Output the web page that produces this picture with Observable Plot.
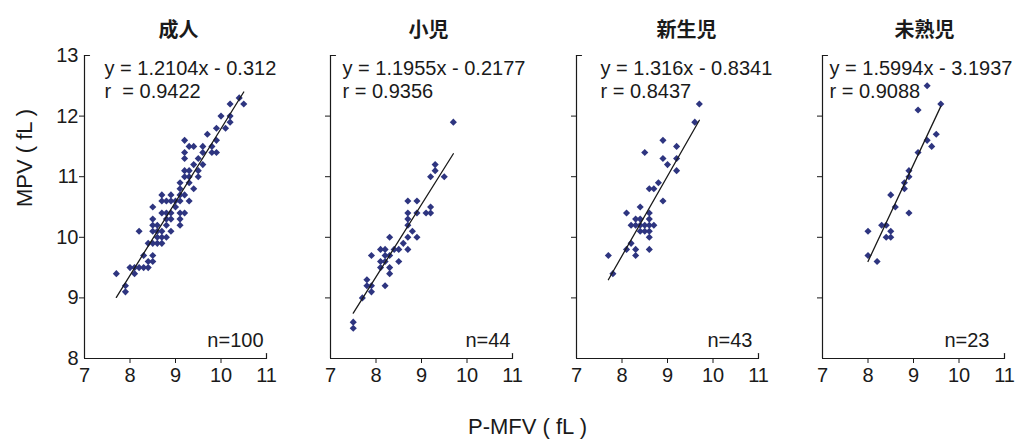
<!DOCTYPE html>
<html>
<head>
<meta charset="utf-8">
<script src="https://cdn.jsdelivr.net/npm/d3@7"></script>
<script src="https://cdn.jsdelivr.net/npm/@observablehq/plot@0.6"></script>
<style>
  html, body { margin: 0; padding: 0; background: #fff; }
</style>
</head>
<body>
<div id="chart"></div>
<script>
// ---- data ----
const groups = ["成人", "小児", "新生児", "未熟児"];

const adultX = [7.7, 7.9, 7.9, 8.0, 8.1, 8.1, 8.2, 8.2, 8.3, 8.3, 8.4, 8.4, 8.4, 8.5, 8.5, 8.5, 8.5, 8.5, 8.5, 8.5,
  8.6, 8.6, 8.6, 8.6, 8.7, 8.7, 8.7, 8.7, 8.7, 8.7, 8.8, 8.8, 8.8, 8.8, 8.8, 8.9, 8.9, 8.9, 8.9, 8.9,
  9.0, 9.0, 9.1, 9.1, 9.1, 9.1, 9.1, 9.1, 9.1, 9.2, 9.2, 9.2, 9.2, 9.2, 9.2, 9.2, 9.3, 9.3, 9.3, 9.3,
  9.3, 9.4, 9.4, 9.4, 9.5, 9.5, 9.5, 9.6, 9.6, 9.6, 9.7, 9.8, 9.8, 9.9, 9.9, 9.9, 10.0, 10.1, 10.2, 10.2,
  10.2, 10.4, 10.5];
const adultY = [9.4, 9.2, 9.1, 9.5, 9.4, 9.5, 10.1, 9.5, 9.7, 9.5, 9.5, 9.6, 9.9, 9.6, 9.7, 9.9, 10.1, 10.2, 10.3, 10.5,
  10.1, 10.0, 9.9, 10.2, 10.1, 10.0, 9.9, 10.4, 10.6, 10.7, 10.0, 10.2, 10.3, 10.4, 10.6, 10.3, 10.4, 10.6, 10.7, 10.1,
  10.5, 10.6, 10.4, 10.3, 10.2, 10.7, 10.9, 10.8, 10.6, 10.4, 10.7, 11.0, 11.1, 11.3, 11.4, 11.6, 10.9, 11.1, 11.0, 11.5,
  10.6, 11.5, 11.2, 10.8, 11.1, 11.0, 11.3, 11.4, 11.5, 11.2, 11.7, 11.5, 11.4, 11.4, 11.6, 11.8, 12.0, 11.8, 11.9, 12.0,
  12.2, 12.3, 12.2];

const childX = [7.5, 7.5, 7.7, 7.8, 7.8, 7.9, 7.9, 7.9, 8.1, 8.1, 8.1, 8.2, 8.2, 8.2, 8.2, 8.3, 8.3, 8.3, 8.3, 8.4,
  8.5, 8.5, 8.6, 8.7, 8.7, 8.7, 8.7, 8.7, 8.7, 8.8, 8.9, 8.9, 8.9, 9.1, 9.2, 9.2, 9.2, 9.3, 9.3, 9.5, 9.7];
const childY = [8.6, 8.5, 9.0, 9.3, 9.2, 9.2, 9.1, 9.7, 9.8, 9.6, 9.5, 9.8, 9.7, 9.6, 9.2, 10.0, 9.7, 9.5, 9.4, 9.8,
  9.8, 9.6, 9.9, 9.8, 10.0, 10.2, 10.3, 10.4, 10.6, 10.1, 10.0, 10.4, 10.6, 10.4, 10.4, 10.5, 11.0, 11.1, 11.2, 11.0, 11.9];

const neonateX = [7.7, 7.8, 8.1, 8.1, 8.2, 8.2, 8.3, 8.3, 8.3, 8.3, 8.4, 8.4, 8.4, 8.4, 8.5, 8.5, 8.5, 8.6, 8.6, 8.6,
  8.6, 8.6, 8.6, 8.6, 8.7, 8.7, 8.8, 8.9, 8.9, 8.9, 9.0, 9.2, 9.2, 9.2, 9.6, 9.7];
const neonateY = [9.7, 9.4, 10.4, 9.8, 10.2, 9.9, 10.3, 10.2, 9.8, 9.7, 10.5, 10.2, 10.1, 10.3, 10.2, 10.1, 11.4, 10.4, 10.3, 10.2,
  10.1, 10.0, 9.8, 10.8, 10.2, 10.8, 10.9, 10.6, 11.3, 11.6, 11.2, 11.3, 11.1, 11.5, 11.9, 12.2];

const pretermX = [8.0, 8.0, 8.2, 8.3, 8.4, 8.4, 8.5, 8.5, 8.5, 8.6, 8.8, 8.8, 8.9, 8.9, 8.9, 9.1, 9.1, 9.3, 9.3, 9.4, 9.5, 9.6];
const pretermY = [10.1, 9.7, 9.6, 10.2, 10.2, 10.0, 10.0, 10.1, 10.7, 10.5, 10.8, 10.9, 10.4, 11.0, 11.1, 11.4, 12.1, 11.6, 12.5, 11.5, 11.7, 12.2];

const slopes = [1.2104, 1.1955, 1.316, 1.5994];
const intercepts = [-0.312, -0.2177, -0.8341, -3.1937];
const rLabels = ["r  = 0.9422", "r = 0.9356", "r = 0.8437", "r = 0.9088"];
const nLabels = ["n=100", "n=44", "n=43", "n=23"];
const xTicks = [7, 8, 9, 10, 11];
const yTicks = [8, 9, 10, 11, 12, 13];
const xTitle = "P-MFV ( fL )";
const yTitle = "MPV ( fL )";

// ---- build tables ----
const xs = [adultX, childX, neonateX, pretermX];
const ys = [adultY, childY, neonateY, pretermY];
const points = [];
groups.forEach((g, i) => xs[i].forEach((x, j) => points.push({group: g, x, y: ys[i][j]})));
const fits = groups.flatMap((g, i) =>
  d3.extent(xs[i]).map(x => ({group: g, x, y: slopes[i] * x + intercepts[i]})));
const eqTexts = groups.map((g, i) => ({
  group: g,
  text: `y = ${slopes[i]}x - ${Math.abs(intercepts[i])}\n${rLabels[i].replace(/  /g, "\u00a0 ")}`
}));

// ---- styling ----
const ink = "#1a1a1a";
const navy = "#2e3580";
const latin = "'Liberation Sans', Arial, Helvetica, sans-serif";
const cjk = "'Noto Sans CJK JP', 'Noto Sans CJK SC', sans-serif";
const eqDx = [20, 12, 24, 7];
const nDx = [-3, -2, -6, -15];
const titleDx = [3, 7, 19, 11];
const tickShape = {draw(ctx, l) { ctx.moveTo(0, 0); ctx.lineTo(0, -l); }};
const intFormat = d3.format("d");

const chart = Plot.plot({
  width: 1021,
  height: 445,
  marginTop: 55,
  marginBottom: 87,
  marginLeft: 83,
  marginRight: 16,
  style: {fontFamily: latin, fontSize: "20px", color: ink, background: "#fff", overflow: "visible"},
  fx: {domain: groups, paddingInner: 0.262, paddingOuter: 0, axis: null, label: null},
  x: {domain: [xTicks[0], xTicks[xTicks.length - 1]], axis: null, label: null},
  y: {domain: [yTicks[0], yTicks[yTicks.length - 1]], axis: null, label: null},
  marks: [
    // axis lines
    Plot.ruleX([xTicks[0]], {stroke: ink, strokeWidth: 1.2}),
    Plot.ruleY([yTicks[0]], {stroke: ink, strokeWidth: 1.2}),
    // outward ticks
    Plot.axisY(yTicks.slice(1, -1), {tickSize: 5, tickFormat: () => "", facetAnchor: null, stroke: ink, label: null}),
    Plot.axisX(xTicks.slice(1, -1), {tickSize: 5, tickFormat: () => "", stroke: ink, label: null}),
    // inward end ticks
    Plot.vector([yTicks[yTicks.length - 1]], {x: () => xTicks[0], y: d => d, length: 5, rotate: 90, anchor: "start", shape: tickShape, stroke: ink, strokeWidth: 1.2}),
    Plot.vector([xTicks[xTicks.length - 1]], {x: d => d, y: () => yTicks[0], length: 5, rotate: 0, anchor: "start", shape: tickShape, stroke: ink, strokeWidth: 1.2}),
    // tick labels
    Plot.axisY(yTicks, {tickSize: 0, tickPadding: 6, tickFormat: intFormat, fontSize: 20, fill: ink, label: null}),
    Plot.axisX(xTicks, {tickSize: 0, tickPadding: 9, tickFormat: intFormat, fontSize: 20, fill: ink, label: null}),
    // data
    Plot.dot(points, {fx: "group", x: "x", y: "y", symbol: "diamond2", r: 3.2, fill: navy, stroke: "none"}),
    Plot.line(fits, {fx: "group", x: "x", y: "y", z: "group", stroke: ink, strokeWidth: 1.3}),
    // annotations
    ...groups.map((g, i) => Plot.text([eqTexts[i]], {
      fx: "group", text: "text", frameAnchor: "top-left", textAnchor: "start", lineAnchor: "top",
      dx: eqDx[i], dy: 3, lineHeight: 1.15, fontSize: 20, fill: ink
    })),
    ...groups.map((g, i) => Plot.text([nLabels[i]], {
      fx: () => g, text: d => d, frameAnchor: "bottom-right", textAnchor: "end", lineAnchor: "bottom",
      dx: nDx[i], dy: -12, fontSize: 20, fill: ink
    })),
    // facet titles
    ...groups.map((g, i) => Plot.text([g], {
      fx: d => d, text: d => d, frameAnchor: "top", dy: -33, dx: titleDx[i],
      fontFamily: cjk, fontWeight: "bold", fontSize: 20, fill: ink
    })),
    // axis titles
    Plot.text([yTitle], {fx: () => groups[0], text: d => d, frameAnchor: "left", dx: -60, rotate: -90, fontSize: 22, fill: ink}),
    Plot.text([xTitle], {fx: () => groups[0], text: d => d, frameAnchor: "bottom", dx: 352, dy: 75, fontSize: 22, fill: ink})
  ]
});
document.getElementById("chart").appendChild(chart);
</script>
</body>
</html>
